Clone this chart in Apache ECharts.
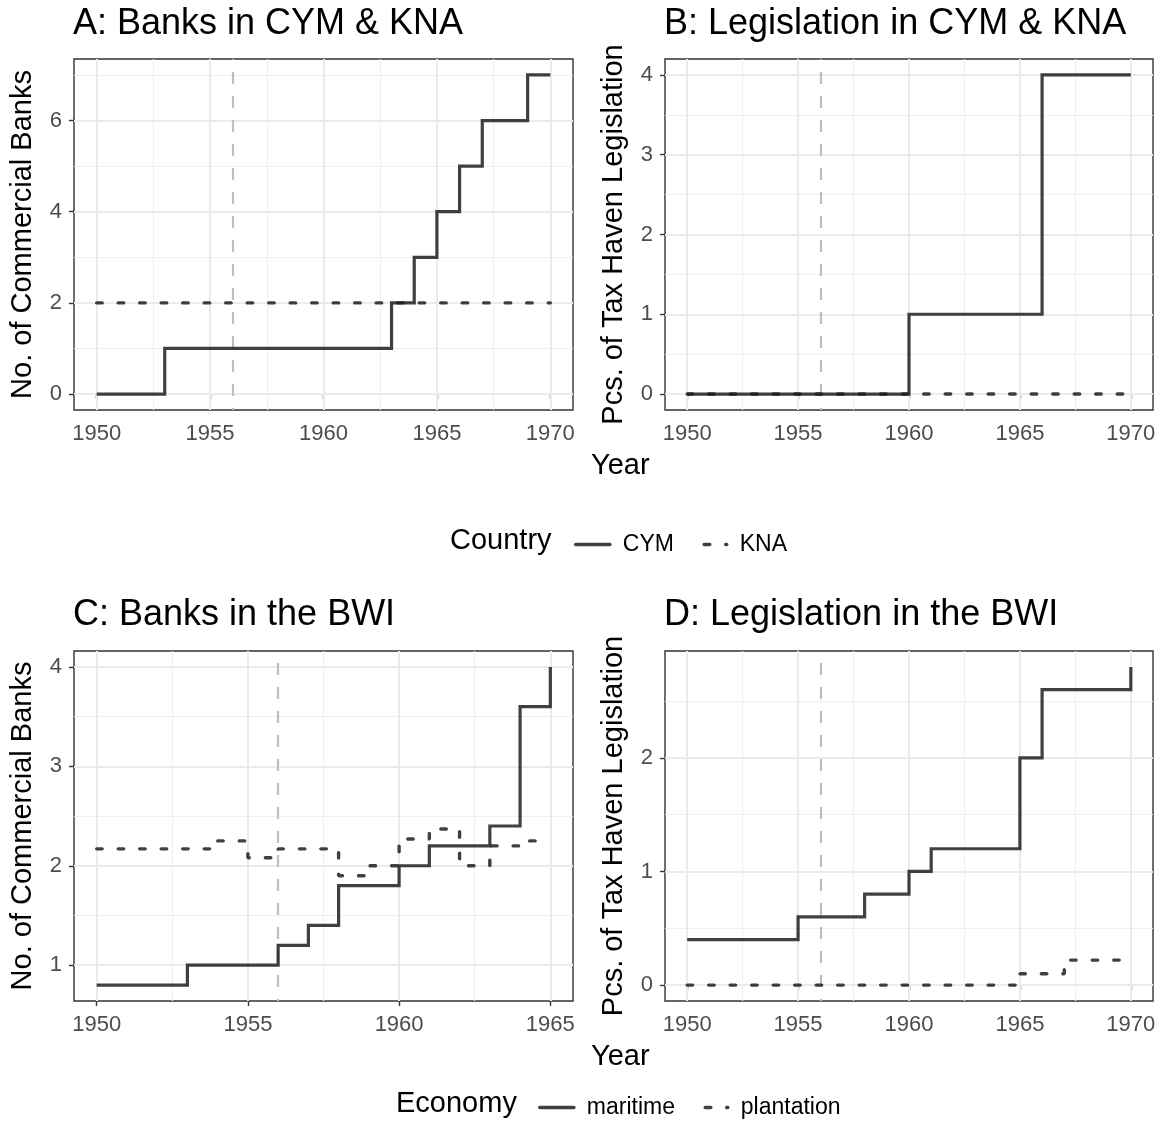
<!DOCTYPE html>
<html>
<head>
<meta charset="utf-8">
<script src="https://cdn.jsdelivr.net/npm/echarts@6/dist/echarts.min.js"></script>
<style>
  html, body { margin: 0; padding: 0; background: #fff; }
  #chart { width: 1174px; height: 1144px; }
</style>
</head>
<body>
<div id="chart"></div>
<script>
// panel A / B: years 1950..1970
const yearsAB = [1950, 1951, 1952, 1953, 1954, 1955, 1956, 1957, 1958, 1959, 1960,
  1961, 1962, 1963, 1964, 1965, 1966, 1967, 1968, 1969, 1970];
const banksCYM = [0, 0, 0, 1, 1, 1, 1, 1, 1, 1, 1, 1, 1, 2, 3, 4, 5, 6, 6, 7, 7];
const banksKNA = [2, 2, 2, 2, 2, 2, 2, 2, 2, 2, 2, 2, 2, 2, 2, 2, 2, 2, 2, 2, 2];
const legisCYM = [0, 0, 0, 0, 0, 0, 0, 0, 0, 0, 1, 1, 1, 1, 1, 1, 4, 4, 4, 4, 4];
const legisKNA = [0, 0, 0, 0, 0, 0, 0, 0, 0, 0, 0, 0, 0, 0, 0, 0, 0, 0, 0, 0, 0];

// panel C: years 1950..1965
const yearsC = [1950, 1951, 1952, 1953, 1954, 1955, 1956, 1957, 1958, 1959, 1960,
  1961, 1962, 1963, 1964, 1965];
const banksMaritime = [0.8, 0.8, 0.8, 1.0, 1.0, 1.0, 1.2, 1.4, 1.8, 1.8, 2.0, 2.2, 2.2, 2.4, 3.6, 4.0];
const banksPlantation = [2.17, 2.17, 2.17, 2.17, 2.25, 2.08, 2.17, 2.17, 1.9, 2.0, 2.27, 2.37, 2.0, 2.2, 2.25, 2.25];

// panel D: years 1950..1970
const legisMaritime = [0.4, 0.4, 0.4, 0.4, 0.4, 0.6, 0.6, 0.6, 0.8, 0.8, 1.0, 1.2, 1.2, 1.2, 1.2,
  2.0, 2.6, 2.6, 2.6, 2.6, 2.8];
const legisPlantation = [0, 0, 0, 0, 0, 0, 0, 0, 0, 0, 0, 0, 0, 0, 0, 0.1, 0.1, 0.22, 0.22, 0.22, 0.22];

const ticksX20 = [1950, 1955, 1960, 1965, 1970];
const ticksX15 = [1950, 1955, 1960, 1965];
const ticksYA = [0, 2, 4, 6];
const ticksYB = [0, 1, 2, 3, 4];
const ticksYC = [1, 2, 3, 4];
const ticksYD = [0, 1, 2];

const cutoffYear = 1956;

const FONT = "'Liberation Sans', Arial, Helvetica, sans-serif";
const LINE = '#1f1f1f';
const DASH = [5.5, 16];

function pairs(xs, ys) { return xs.map((x, i) => [x, ys[i]]); }
function minors(ticks) {
  const out = [];
  const step = ticks[1] - ticks[0];
  for (let i = 0; i <= ticks.length; i++) out.push(ticks[0] + (i - 0.5) * step);
  return out;
}

const grids = [
  { left: 74, top: 59, width: 499, height: 351 },
  { left: 665, top: 59, width: 488, height: 351 },
  { left: 74, top: 651, width: 499, height: 350 },
  { left: 665, top: 651, width: 488, height: 350 }
];

const panels = [
  { xmin: 1949, xmax: 1971, xt: ticksX20, ymin: -0.35, ymax: 7.35, yt: ticksYA, name: 'No. of Commercial Banks' },
  { xmin: 1949, xmax: 1971, xt: ticksX20, ymin: -0.2, ymax: 4.2, yt: ticksYB, name: 'Pcs. of Tax Haven Legislation' },
  { xmin: 1949.25, xmax: 1965.75, xt: ticksX15, ymin: 0.64, ymax: 4.16, yt: ticksYC, name: 'No. of Commercial Banks' },
  { xmin: 1949, xmax: 1971, xt: ticksX20, ymin: -0.14, ymax: 2.94, yt: ticksYD, name: 'Pcs. of Tax Haven Legislation' }
];

const tickStyle = { color: '#333', width: 1.4 };
const tickText = { color: '#4d4d4d', fontSize: 22, fontFamily: FONT };

const xAxes = panels.map((p, i) => ({
  type: 'value', gridIndex: i, min: p.xmin, max: p.xmax,
  axisLine: { show: false },
  splitLine: { show: false },
  axisTick: { show: true, customValues: p.xt, length: 5, lineStyle: tickStyle },
  axisLabel: Object.assign({ customValues: p.xt, margin: 13, formatter: v => String(v) }, tickText)
}));

const yAxes = panels.map((p, i) => ({
  type: 'value', gridIndex: i, min: p.ymin, max: p.ymax,
  name: p.name, nameLocation: 'middle', nameGap: 37,
  nameTextStyle: { fontSize: 29, fontFamily: FONT, color: '#000' },
  axisLine: { show: false },
  splitLine: { show: false },
  axisTick: { show: true, customValues: p.yt, length: 5, lineStyle: tickStyle },
  axisLabel: Object.assign({ customValues: p.yt, margin: 12, formatter: v => String(v) }, tickText)
}));

// background grid lines + 1956 reference line, drawn as markLines on a helper series
function gridSeries(i) {
  const p = panels[i];
  const xMinor = minors(p.xt).filter(v => v > p.xmin && v < p.xmax);
  const yMinor = minors(p.yt).filter(v => v > p.ymin && v < p.ymax);
  const major = { color: '#ebebeb', width: 2, type: 'solid' };
  const minor = { color: '#efefef', width: 1.1, type: 'solid' };
  const data = []
    .concat(xMinor.map(v => ({ xAxis: v, lineStyle: minor })))
    .concat(yMinor.map(v => ({ yAxis: v, lineStyle: minor })))
    .concat(p.xt.map(v => ({ xAxis: v, lineStyle: major })))
    .concat(p.yt.map(v => ({ yAxis: v, lineStyle: major })))
    .concat([{ xAxis: cutoffYear, lineStyle: { color: '#bebebe', width: 2.2, type: [12, 12], dashOffset: 10 } }]);
  return {
    type: 'line', xAxisIndex: i, yAxisIndex: i, data: [], silent: true, z: 1,
    markLine: {
      silent: true, symbol: ['none', 'none'], label: { show: false }, z: 1,
      animation: false, data: data
    }
  };
}

function stepSeries(name, i, xs, ys, dashed) {
  return {
    name: name, type: 'line', step: 'end', xAxisIndex: i, yAxisIndex: i,
    data: pairs(xs, ys), symbol: 'none', showSymbol: false, z: 3,
    itemStyle: { color: LINE },
    lineStyle: dashed
      ? { color: LINE, opacity: 0.85, width: 3.4, type: DASH, cap: 'round' }
      : { color: LINE, opacity: 0.85, width: 3.2, type: 'solid', cap: 'butt', join: 'miter' }
  };
}

const titleStyle = { fontSize: 36, fontWeight: 'normal', fontFamily: FONT, color: '#000' };
const bigText = { fontSize: 29, fontWeight: 'normal', fontFamily: FONT, color: '#000' };
const legendText = { fontSize: 23, fontFamily: FONT, color: '#000', padding: [0, 0, 0, 8] };
const legendLine = { color: LINE, opacity: 0.85, width: 3.6, cap: 'round' };

const option = {
  animation: false,
  backgroundColor: '#fff',
  title: [
    { text: 'A: Banks in CYM & KNA', left: 73, top: 6, padding: 0, textStyle: titleStyle },
    { text: 'B: Legislation in CYM & KNA', left: 664, top: 6, padding: 0, textStyle: titleStyle },
    { text: 'C: Banks in the BWI', left: 73, top: 597, padding: 0, textStyle: titleStyle },
    { text: 'D: Legislation in the BWI', left: 664, top: 597, padding: 0, textStyle: titleStyle },
    { text: 'Year', left: 591, top: 451, padding: 0, textStyle: bigText },
    { text: 'Year', left: 591, top: 1042, padding: 0, textStyle: bigText },
    { text: 'Country', left: 450, top: 526, padding: 0, textStyle: bigText },
    { text: 'Economy', left: 396, top: 1089, padding: 0, textStyle: bigText }
  ],
  legend: [
    {
      data: ['CYM', 'KNA'], left: 569, top: 528, itemWidth: 34, itemHeight: 16, itemGap: 17,
      itemStyle: { opacity: 0 }, lineStyle: legendLine, textStyle: legendText, selectedMode: false
    },
    {
      data: ['maritime', 'plantation'], left: 533, top: 1091, itemWidth: 34, itemHeight: 16, itemGap: 17,
      itemStyle: { opacity: 0 }, lineStyle: legendLine, textStyle: legendText, selectedMode: false
    }
  ],
  grid: grids.map(g => Object.assign({ show: true, borderColor: '#333', borderWidth: 1.4, backgroundColor: 'transparent', containLabel: false }, g)),
  xAxis: xAxes,
  yAxis: yAxes,
  series: [
    gridSeries(0), gridSeries(1), gridSeries(2), gridSeries(3),
    stepSeries('CYM', 0, yearsAB, banksCYM, false),
    stepSeries('KNA', 0, yearsAB, banksKNA, true),
    stepSeries('CYM', 1, yearsAB, legisCYM, false),
    stepSeries('KNA', 1, yearsAB, legisKNA, true),
    stepSeries('maritime', 2, yearsC, banksMaritime, false),
    stepSeries('plantation', 2, yearsC, banksPlantation, true),
    stepSeries('maritime', 3, yearsAB, legisMaritime, false),
    stepSeries('plantation', 3, yearsAB, legisPlantation, true)
  ]
};

const chart = echarts.init(document.getElementById('chart'), null, { renderer: 'canvas' });
chart.setOption(option);
</script>
</body>
</html>
